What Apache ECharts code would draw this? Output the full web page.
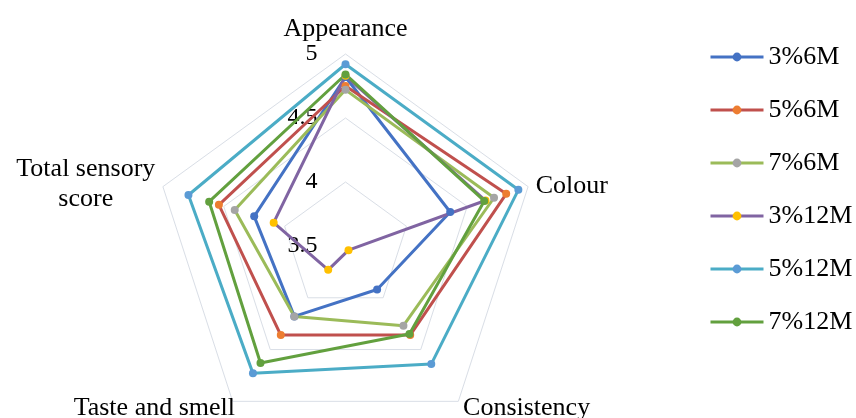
<!DOCTYPE html>
<html><head><meta charset="utf-8">
<script src="https://cdn.jsdelivr.net/npm/echarts@6/dist/echarts.min.js"></script>
<style>html,body{margin:0;padding:0;background:#fff}#c{width:856px;height:418px}</style>
</head><body><div id="c"></div>
<script>
// ---- data ----
const indicators = ['Appearance', 'Colour', 'Consistency', 'Taste and smell', 'Total sensory score'];
const seriesNames = ['3%6M', '5%6M', '7%6M', '3%12M', '5%12M', '7%12M'];
const v3_6M  = [4.82, 4.36, 3.92, 4.18, 4.25];
const v5_6M  = [4.75, 4.82, 4.36, 4.36, 4.54];
const v7_6M  = [4.72, 4.72, 4.27, 4.18, 4.41];
const v3_12M = [4.83, 4.65, 3.54, 3.73, 4.09];
const v5_12M = [4.92, 4.92, 4.64, 4.73, 4.79];
const v7_12M = [4.84, 4.64, 4.35, 4.63, 4.62];
const tickLabels = ['3.5', '4', '4.5', '5'];
const axisMin = 3.5, axisMax = 5, axisStep = 0.5;

// ---- styles ----
const lineColors   = ['#4472C4', '#C0504D', '#9BBB59', '#8064A2', '#4BACC6', '#62A03E'];
const markerColors = ['#4472C4', '#ED7D31', '#A5A5A5', '#FFC000', '#5B9BD5', '#62A03E'];
const allValues = [v3_6M, v5_6M, v7_6M, v3_12M, v5_12M, v7_12M];

// ECharts lays indicators counter-clockwise; reorder so they run clockwise
const order = [0, 4, 3, 2, 1];
const FONT = 'Liberation Serif, Times New Roman, serif';

// per-indicator name placement tweaks (keyed by original indicator index)
const nameTweaks = {
  0: { nameGap: 8, nameTextStyle: { lineHeight: 20, padding: [0, 0, 0, 0] } },
  1: { nameGap: 8, nameTextStyle: { padding: [4, 0, 0, 0] } },
  3: { nameGap: -4, nameTextStyle: { padding: [20, 0, 0, 0] } }
};

const indicatorOpts = order.map(function (i, k) {
  const o = { name: indicators[i], min: axisMin, max: axisMax, interval: axisStep };
  if (nameTweaks[i]) Object.assign(o, JSON.parse(JSON.stringify(nameTweaks[i])));
  if (k === 0) {
    o.axisLabel = {
      show: true, color: '#000', fontFamily: FONT, fontSize: 24, margin: 28,
      formatter: function (v) {
        const idx = Math.round((v - axisMin) / axisStep);
        return tickLabels[idx] != null ? tickLabels[idx] : '';
      }
    };
  }
  return o;
});

// empty line series only provide the legend icons (line + marker, two colours)
const legendSeries = seriesNames.map(function (name, s) {
  return {
    type: 'line', name: name, data: [], symbol: 'circle', showSymbol: true,
    xAxisIndex: 0, yAxisIndex: 0,
    lineStyle: { color: lineColors[s], width: 3 },
    itemStyle: { color: markerColors[s] }
  };
});

const radarSeries = seriesNames.map(function (name, s) {
  return {
    type: 'radar',
    name: name,
    symbol: 'circle',
    symbolSize: 8,
    lineStyle: { color: lineColors[s], width: 3 },
    itemStyle: { color: markerColors[s] },
    data: [{ name: name, value: order.map(function (i) { return allValues[s][i]; }) }]
  };
});

const chart = echarts.init(document.getElementById('c'), null, { renderer: 'canvas' });
chart.setOption({
  backgroundColor: '#fff',
  animation: false,
  grid: { left: 0, top: 0, width: 1, height: 1, show: false },
  xAxis: { type: 'category', show: false, data: [] },
  yAxis: { type: 'value', show: false },
  legend: {
    orient: 'vertical', left: 704, top: 39,
    itemWidth: 53, itemHeight: 11, itemGap: 27,
    lineStyle: { width: 3 },
    textStyle: { color: '#000', fontFamily: FONT, fontSize: 26, lineHeight: 26 },
    data: seriesNames
  },
  radar: {
    center: [345.5, 246], radius: 192, startAngle: 90, shape: 'polygon', splitNumber: 3,
    nameGap: 8,
    axisName: {
      color: '#000', fontFamily: FONT, fontSize: 26, lineHeight: 30,
      formatter: function (n) {
        if (n === 'Total sensory score') return '{c|Total sensory}\n{c|score}';
        return n;
      },
      rich: { c: { align: 'center', fontFamily: FONT, fontSize: 26, lineHeight: 30, color: '#000' } }
    },
    axisLine: { show: false },
    axisTick: { show: false },
    axisLabel: { show: false },
    splitLine: { lineStyle: { color: '#D9DEE6', width: 1 } },
    splitArea: { show: false },
    indicator: indicatorOpts
  },
  series: legendSeries.concat(radarSeries)
});
</script>
</body></html>
